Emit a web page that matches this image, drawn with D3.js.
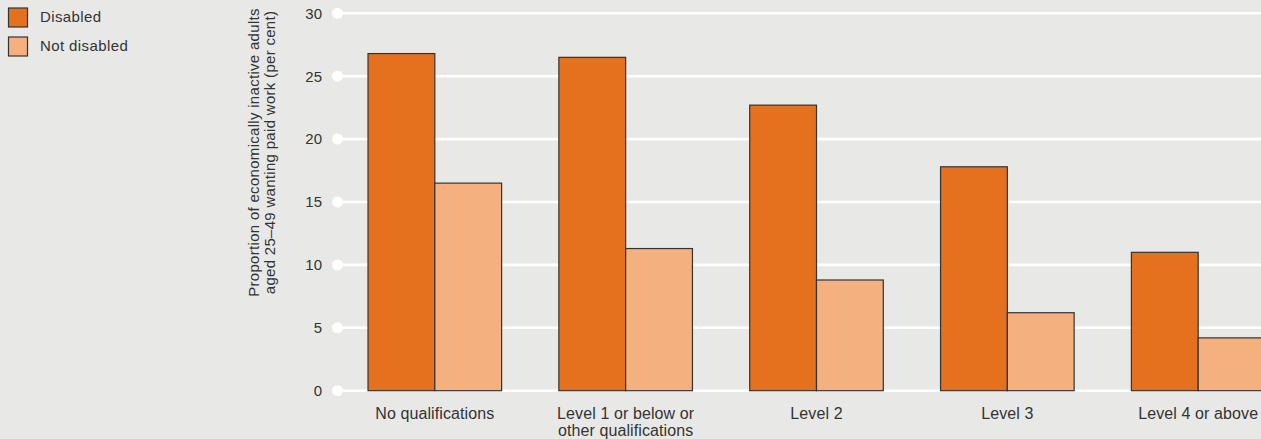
<!DOCTYPE html>
<html>
<head>
<meta charset="utf-8">
<script src="https://cdn.jsdelivr.net/npm/d3@7/dist/d3.min.js"></script>
<style>
  html, body { margin: 0; padding: 0; background: #e8e9e7; }
  svg { display: block; }
  text { font-family: "Liberation Sans", Arial, Helvetica, sans-serif; fill: #333; }
</style>
</head>
<body>
<svg id="chart" width="1261" height="439"></svg>
<script>
const categories = [
  ["No qualifications"],
  ["Level 1 or below or", "other qualifications"],
  ["Level 2"],
  ["Level 3"],
  ["Level 4 or above"]
];
const seriesNames = ["Disabled", "Not disabled"];
const disabled = [26.8, 26.5, 22.7, 17.8, 11.0];
const notDisabled = [16.5, 11.3, 8.8, 6.2, 4.2];
const yTicks = [0, 5, 10, 15, 20, 25, 30];
const yTitle = ["Proportion of economically inactive adults", "aged 25\u201349 wanting paid work (per cent)"];
const colors = ["#e5701e", "#f4b07f"];

const W = 1261, H = 439;
const svg = d3.select("#chart");
svg.append("rect").attr("width", W).attr("height", H).attr("fill", "#e8e9e7");

const y = d3.scaleLinear().domain([0, 30]).range([390.7, 13.3]);
const cats = categories.map(c => c.join(" "));
const x = d3.scaleBand().domain(cats).range([337, 1296]).paddingInner(0.3).paddingOuter(0.1625);
const xs = d3.scaleBand().domain(seriesNames).range([0, x.bandwidth()]);

// gridlines
const grid = svg.append("g");
grid.selectAll("line").data(yTicks).join("line")
  .attr("x1", 337).attr("x2", W)
  .attr("y1", d => y(d)).attr("y2", d => y(d))
  .attr("stroke", "#fff").attr("stroke-width", 2.6);
grid.selectAll("circle").data(yTicks).join("circle")
  .attr("cx", 337.5).attr("cy", d => y(d)).attr("r", 5.5).attr("fill", "#fff");

// y axis labels
const yAxis = d3.axisLeft(y).tickValues(yTicks).tickSize(0).tickPadding(0);
const ya = svg.append("g").attr("transform", "translate(322,0)").call(yAxis);
ya.select(".domain").remove();
ya.selectAll("text").attr("font-size", 15).attr("fill", "#333")
  .style("font-family", '"Liberation Sans", Arial, sans-serif');

// bars
const data = cats.map((c, i) => ({ cat: c, vals: [disabled[i], notDisabled[i]] }));
const groups = svg.append("g").selectAll("g").data(data).join("g")
  .attr("transform", d => `translate(${x(d.cat)},0)`);
groups.selectAll("rect").data(d => d.vals.map((v, j) => ({ s: seriesNames[j], v, j })))
  .join("rect")
  .attr("x", d => xs(d.s))
  .attr("width", xs.bandwidth())
  .attr("y", d => y(d.v))
  .attr("height", d => y(0) - y(d.v))
  .attr("fill", d => colors[d.j])
  .attr("stroke", "#333").attr("stroke-width", 1.2);

// x labels
const xl = svg.append("g");
categories.forEach((lines, i) => {
  const cx = x(cats[i]) + x.bandwidth() / 2;
  const t = xl.append("text")
    .attr("x", cx)
    .attr("y", 419)
    .attr("text-anchor", "middle")
    .attr("font-size", 16)
    .attr("letter-spacing", 0.1);
  lines.forEach((ln, k) => {
    t.append("tspan").attr("x", cx).attr("dy", k === 0 ? 0 : 16.5).text(ln);
  });
});

// y title
const yt = svg.append("text")
  .attr("transform", "translate(258.5,152.5) rotate(-90)")
  .attr("text-anchor", "middle")
  .attr("font-size", 15)
  .attr("letter-spacing", 0.3);
yTitle.forEach((ln, k) => {
  yt.append("tspan").attr("x", 0).attr("dy", k === 0 ? 0 : 16.5).text(ln);
});

// legend
const lg = svg.append("g");
seriesNames.forEach((s, i) => {
  lg.append("rect").attr("x", 8.5).attr("y", 8 + i * 29).attr("width", 19).attr("height", 19)
    .attr("fill", colors[i]).attr("stroke", "#333").attr("stroke-width", 1.2);
  lg.append("text").attr("x", 40).attr("y", 22.3 + i * 29)
    .attr("font-size", 15).attr("letter-spacing", 0.4).text(s);
});
</script>
</body>
</html>
